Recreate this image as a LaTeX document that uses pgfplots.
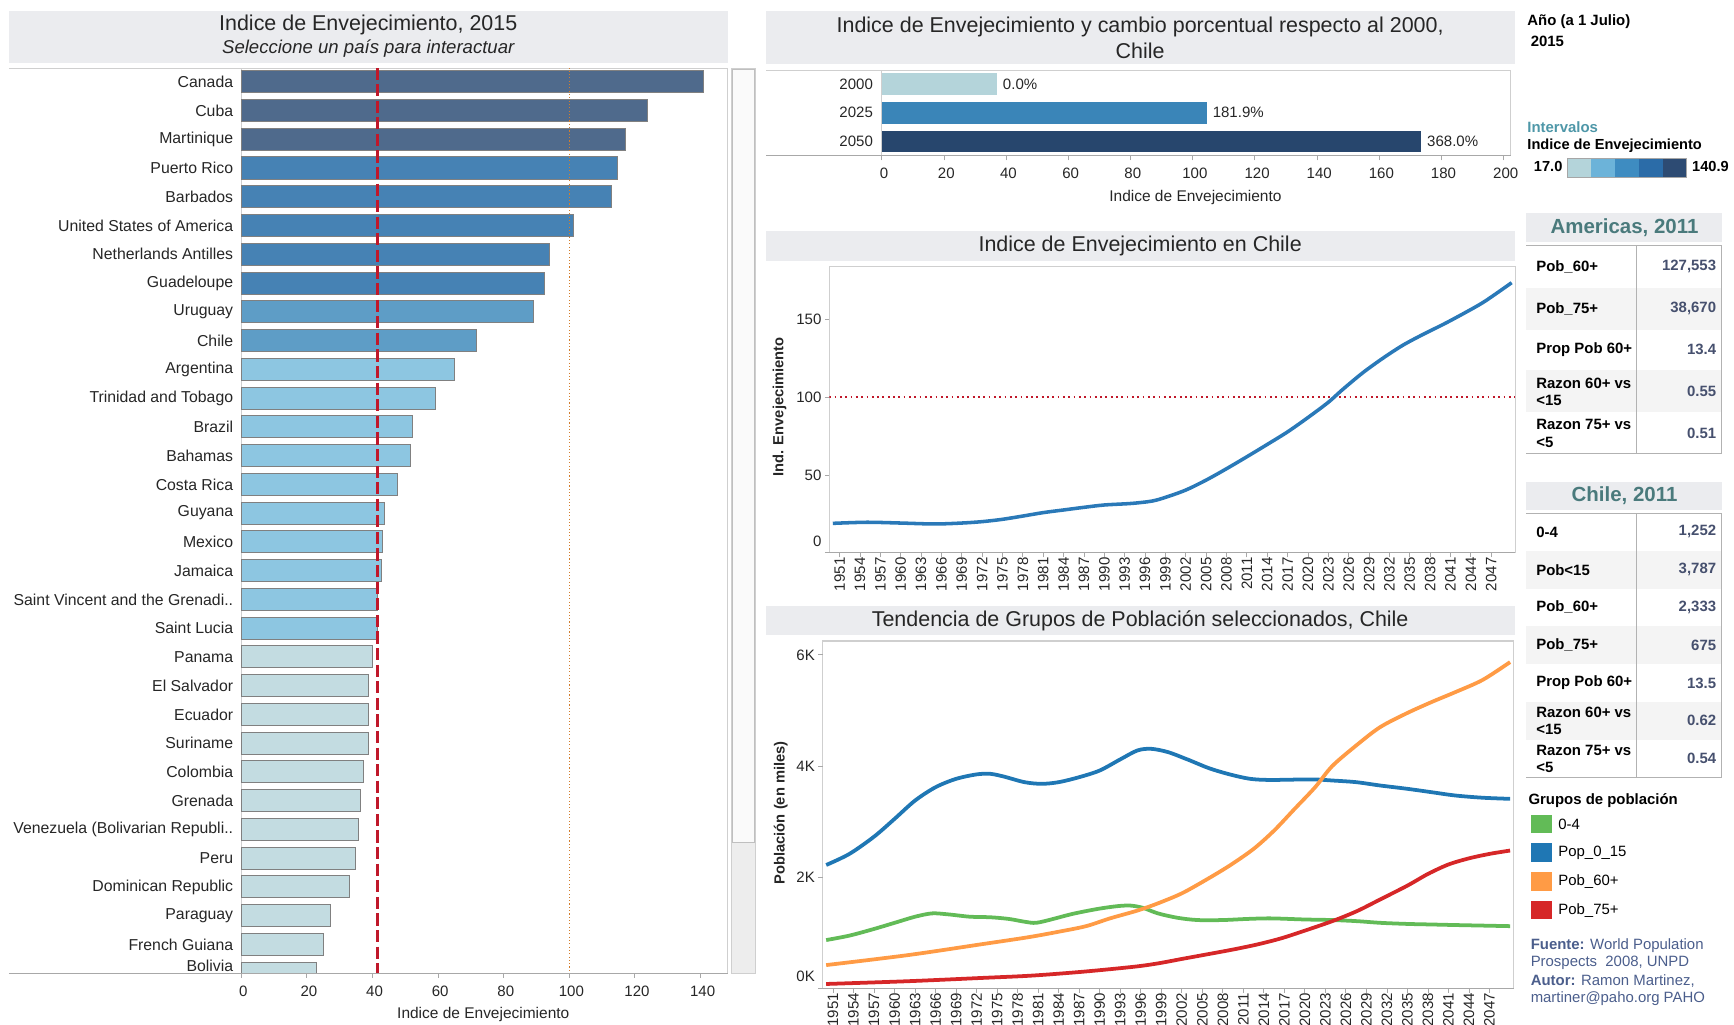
\documentclass[border=0pt]{standalone}
\usepackage{pgfplots}
\pgfplotsset{compat=1.18}
\usepackage{fontspec}
\setmainfont{Liberation Sans}
\newcommand\fs[1]{\fontsize{#1}{#1}\selectfont}
\definecolor{titlebg}{HTML}{EBECEF}
\definecolor{cA}{HTML}{4F6A8C}
\definecolor{cB}{HTML}{4682B4}
\definecolor{cC}{HTML}{5E9DC6}
\definecolor{cD}{HTML}{8DC6E1}
\definecolor{cE}{HTML}{C3DCE1}
\definecolor{framec}{HTML}{CFCFCF}
\definecolor{axisgray}{HTML}{A8A8A8}
\definecolor{idxblue}{HTML}{2A79B8}
\definecolor{tblue}{HTML}{1F77B4}
\definecolor{tgreen}{HTML}{62BB57}
\definecolor{torange}{HTML}{FF9B45}
\definecolor{tred}{HTML}{D62728}
\definecolor{valcol}{HTML}{46506E}
\definecolor{tealc}{HTML}{4A7A7C}
\definecolor{interv}{HTML}{4E97A8}
\definecolor{fuente}{HTML}{4B5E8C}
\definecolor{band}{HTML}{F4F4F4}
\definecolor{b2000}{HTML}{B4D4DA}
\definecolor{b2025}{HTML}{3A85B8}
\definecolor{b2050}{HTML}{27466D}
\definecolor{rA}{HTML}{B4D4DA}
\definecolor{rB}{HTML}{6CB3D9}
\definecolor{rC}{HTML}{3E8CC1}
\definecolor{rD}{HTML}{2B6CA8}
\definecolor{rE}{HTML}{2D4B73}
\definecolor{reddash}{HTML}{C0182A}
\definecolor{orgdot}{HTML}{D27D2D}
\pgfplotsset{
  every axis/.append style={
    scale only axis, anchor=south west, axis line style={draw=none},
    tick label style={font=\fs{13.6}, text=black!85},
    /pgf/number format/assume math mode=true, /pgf/number format/1000 sep={},
    tick align=outside, major tick length=4pt,
    tick style={draw=axisgray, line width=0.8pt},
  },
}
\begin{document}
\begin{tikzpicture}[x=1pt,y=1pt]
\path[use as bounding box] (0,0) rectangle (1568,926);

% ---------------- LEFT PANEL ----------------
\fill[titlebg] (8,869) rectangle (658,916);
\node[font=\fs{19.4}, text=black!85] at (333,903) {Indice de Envejecimiento, 2015};
\node[font=\fs{16.8}\itshape, text=black!85] at (333,882) {Seleccione un país para interactuar};
\draw[framec, line width=1pt] (8,864) -- (658,864);
\draw[framec, line width=1pt] (218,46) -- (218,864);
\draw[framec, line width=1pt] (658,46) -- (658,864);
\fill[black!7] (661,46) rectangle (683,864);
\draw[framec] (661,46) rectangle (683,864);
\fill[black!2] (662,164) rectangle (682,863);
\draw[black!25] (662,164) rectangle (682,863);

\begin{axis}[at={(218pt,46pt)}, width=440pt, height=818pt,
  xmin=0, xmax=148.3, ymin=-0.46, ymax=31, y dir=reverse,
  xtick={0,20,...,140}, xtick pos=left,
  ytick={0,...,30,30.75}, ytick pos=left, ytick style={draw=none},
  yticklabels={Canada,Cuba,Martinique,Puerto Rico,Barbados,United States of America,Netherlands Antilles,Guadeloupe,Uruguay,Chile,Argentina,Trinidad and Tobago,Brazil,Bahamas,Costa Rica,Guyana,Mexico,Jamaica,Saint Vincent and the Grenadi..,Saint Lucia,Panama,El Salvador,Ecuador,Suriname,Colombia,Grenada,Venezuela (Bolivarian Republi..,Peru,Dominican Republic,Paraguay,French Guiana,Bolivia},
  yticklabel style={font=\fs{14.3}, inner sep=0pt, xshift=-3pt},
  xticklabel style={inner sep=0pt, yshift=-7pt, xshift=2pt},
]
\addplot[xbar, bar shift=0pt, bar width=20pt, fill=cA, draw=black!50, line width=0.9pt] coordinates {(141.0,0) (123.8,1) (117.3,2)};
\addplot[xbar, bar shift=0pt, bar width=20pt, fill=cB, draw=black!50, line width=0.9pt] coordinates {(114.6,3) (112.9,4) (101.4,5) (94.1,6) (92.4,7)};
\addplot[xbar, bar shift=0pt, bar width=20pt, fill=cC, draw=black!50, line width=0.9pt] coordinates {(89.2,8) (71.7,9)};
\addplot[xbar, bar shift=0pt, bar width=20pt, fill=cD, draw=black!50, line width=0.9pt] coordinates {(65.0,10) (59.4,11) (52.1,12) (51.5,13) (47.6,14) (43.8,15) (43.2,16) (42.7,17) (41.6,18) (41.6,19)};
\addplot[xbar, bar shift=0pt, bar width=20pt, fill=cE, draw=black!50, line width=0.9pt] coordinates {(40.0,20) (38.7,21) (38.7,22) (38.7,23) (37.4,24) (36.3,25) (35.9,26) (34.9,27) (33.1,28) (27.4,29) (25.2,30) (23.1,31)};
\addplot[orgdot, line width=1pt, dash pattern=on 1pt off 2pt] coordinates {(100,-0.5) (100,31)};
\addplot[reddash, line width=2.5pt, dash pattern=on 11pt off 4pt] coordinates {(41.6,-0.5) (41.6,31)};
\end{axis}
\draw[axisgray, line width=1pt] (8,46) -- (658,46);
\node[font=\fs{14}, text=black!85] at (437,9) {Indice de Envejecimiento};

% ---------------- TOP RIGHT BAR ----------------
\fill[titlebg] (693,868) rectangle (1370,916);
\node[font=\fs{19.4}, text=black!85] at (1031,902) {Indice de Envejecimiento y cambio porcentual respecto al 2000,};
\node[font=\fs{19.4}, text=black!85] at (1031,880) {Chile};
\draw[framec, line width=1pt] (693,862) -- (1366,862);
\draw[framec, line width=1pt] (797.5,785) -- (797.5,862);
\draw[framec, line width=1pt] (1366,785) -- (1366,862);
\begin{axis}[at={(797.5pt,785pt)}, width=568.5pt, height=78pt,
  xmin=0, xmax=202.3, ymin=-0.5, ymax=2.5, y dir=reverse,
  xtick={0,20,...,200}, xtick pos=left,
  ytick={0,1,2}, yticklabels={2000,2025,2050}, ytick pos=left, ytick style={draw=none},
  yticklabel style={inner sep=0pt, xshift=-4pt},
  xticklabel style={inner sep=0pt, yshift=-7pt, xshift=2pt},
  nodes near coords, point meta=explicit symbolic,
  nodes near coords style={font=\fs{13.6}, text=black!85, anchor=west, inner sep=0pt, xshift=5pt},
]
\addplot[xbar, bar shift=0pt, bar width=19.6pt, fill=b2000, draw=none] coordinates {(37.1,0) [0.0\%]};
\addplot[xbar, bar shift=0pt, bar width=19.6pt, fill=b2025, draw=none] coordinates {(104.6,1) [181.9\%]};
\addplot[xbar, bar shift=0pt, bar width=19.6pt, fill=b2050, draw=none] coordinates {(173.6,2) [368.0\%]};
\end{axis}
\draw[axisgray, line width=1pt] (693,785) -- (1366,785);
\node[font=\fs{14}, text=black!85] at (1081,747) {Indice de Envejecimiento};

% ---------------- MIDDLE LINE ----------------
\fill[titlebg] (693,690) rectangle (1370,717);
\node[font=\fs{19.4}, text=black!85] at (1031,704) {Indice de Envejecimiento en Chile};
\draw[framec, line width=1pt] (750,426) rectangle (1370,685);
\begin{axis}[at={(750pt,426pt)}, width=620pt, height=259pt,
  xmin=1949.5, xmax=2050.5, ymin=0, ymax=184,
  xtick={1951,1954,...,2047}, xtick pos=left,
  ytick={0,50,100,150}, ytick pos=left,
  yticklabels={\raisebox{6pt}[0pt][0pt]{0},50,100,150},
  xticklabel style={rotate=90, anchor=east, inner sep=0pt},
  yticklabel style={inner sep=0pt, xshift=-3pt},
]
\addplot[reddash, line width=2pt, dash pattern=on 1.6pt off 3.2pt] coordinates {(1949.5,100) (2050.5,100)};
\addplot[idxblue, line width=3.2pt, smooth] coordinates {
(1950,19.0) (1955,19.7) (1960,19.2) (1965,18.6) (1969,19.2) (1972,20.1) (1975,21.6) (1978,23.7) (1981,25.9) (1984,27.6) (1987,29.3) (1990,30.8) (1994,31.8) (1997,33.3) (1999,35.7) (2002,40.4) (2005,46.8) (2008,54.1) (2011,61.8) (2014,69.7) (2017,77.8) (2020,87.0) (2023,96.8) (2025,104.6) (2028,115.5) (2031,125.0) (2034,133.5) (2037,140.5) (2040,147.0) (2043,154.0) (2046,161.5) (2050,173.6)};
\end{axis}
\draw[axisgray, line width=1pt] (750,426) -- (1370,426);
\node[rotate=90, font=\bfseries\fs{13.3}, text=black!85] at (705,558) {Ind. Envejecimiento};

% ---------------- BOTTOM LINE ----------------
\fill[titlebg] (693,352) rectangle (1370,378);
\node[font=\fs{19.4}, text=black!85] at (1031,365) {Tendencia de Grupos de Población seleccionados, Chile};
\draw[framec, line width=1pt] (744,32.2) rectangle (1368.6,346.4);
\begin{axis}[at={(744pt,32.2pt)}, width=624.6pt, height=314.2pt,
  xmin=1949.5, xmax=2050.5, ymin=0, ymax=6.25,
  xtick={1951,1954,...,2047}, xtick pos=left,
  ytick={0,2,4,6}, ytick pos=left,
  yticklabels={\raisebox{6pt}[0pt][0pt]{0K},2K,4K,6K},
  xticklabel style={rotate=90, anchor=east, inner sep=0pt},
  yticklabel style={inner sep=0pt, xshift=-3pt},
]
\addplot[tgreen, line width=3.4pt, smooth] coordinates {
(1950,0.87) (1953.4,0.95) (1957,1.07) (1960,1.18) (1963,1.29) (1965.5,1.35) (1968,1.33) (1971,1.29) (1974,1.28) (1976.7,1.25) (1979,1.20) (1980.7,1.18) (1983.2,1.25) (1986,1.34) (1989.7,1.43) (1992.6,1.48) (1994.5,1.49) (1996.3,1.45) (1998.5,1.35) (2001.4,1.27) (2004.3,1.23) (2008,1.23) (2011.6,1.25) (2015,1.26) (2020,1.24) (2024,1.23) (2027.6,1.21) (2031,1.18) (2035,1.16) (2038.5,1.15) (2042,1.14) (2046,1.13) (2050,1.12)};
\addplot[tblue, line width=3.4pt, smooth] coordinates {
(1950,2.22) (1953.4,2.42) (1957,2.73) (1960,3.05) (1963,3.38) (1966,3.62) (1969,3.77) (1972,3.85) (1974,3.86) (1976,3.81) (1979,3.71) (1981.5,3.68) (1984,3.71) (1987,3.80) (1990,3.92) (1993,4.12) (1995.5,4.28) (1997.5,4.31) (2000,4.25) (2003,4.11) (2006,3.96) (2009,3.85) (2012,3.77) (2015,3.75) (2021,3.76) (2024,3.74) (2027.5,3.71) (2031,3.65) (2035,3.59) (2038.5,3.53) (2042,3.47) (2046,3.43) (2050,3.41)};
\addplot[torange, line width=3.4pt, smooth] coordinates {
(1950,0.42) (1962,0.60) (1973,0.80) (1979.5,0.92) (1984,1.02) (1988,1.12) (1991.5,1.26) (1995.5,1.40) (1998.5,1.53) (2002,1.71) (2005.5,1.95) (2009,2.21) (2012.5,2.51) (2015.5,2.84) (2018.5,3.23) (2021.5,3.62) (2024,4.00) (2027.6,4.38) (2031,4.70) (2034.9,4.95) (2038.5,5.15) (2042,5.33) (2046,5.55) (2050,5.87)};
\addplot[tred, line width=3.4pt, smooth] coordinates {
(1950,0.08) (1962,0.13) (1973,0.19) (1980,0.23) (1987.5,0.30) (1995,0.39) (1998.5,0.45) (2002,0.53) (2006,0.62) (2009.5,0.70) (2013,0.79) (2016.5,0.90) (2020,1.04) (2024,1.21) (2027.6,1.39) (2031,1.60) (2035,1.85) (2038,2.06) (2041,2.23) (2044,2.34) (2047,2.42) (2050,2.48)};
\end{axis}
\draw[axisgray, line width=1pt] (744,32.2) -- (1368.6,32.2);
\node[rotate=90, font=\bfseries\fs{13.3}, text=black!85] at (706,191) {Población (en miles)};

% ---------------- RIGHT COLUMN ----------------
\node[anchor=west, font=\bfseries\fs{13.5}, inner sep=0pt] at (1381,906) {Año (a 1 Julio)};
\node[anchor=west, font=\bfseries\fs{13.5}, inner sep=0pt] at (1384,889) {2015};
\node[anchor=west, font=\bfseries\fs{13.5}, text=interv, inner sep=0pt] at (1381,811) {Intervalos};
\node[anchor=west, font=\bfseries\fs{13.2}, inner sep=0pt] at (1381,794) {Indice de Envejecimiento};
\node[anchor=east, font=\bfseries\fs{13.2}, inner sep=0pt] at (1413,775) {17.0};
\fill[rA] (1417.5,766) rectangle (1439,783);
\fill[rB] (1439,766) rectangle (1460.5,783);
\fill[rC] (1460.5,766) rectangle (1482,783);
\fill[rD] (1482,766) rectangle (1503.5,783);
\fill[rE] (1503.5,766) rectangle (1525,783);
\draw[black!35] (1417.5,766) rectangle (1525,783);
\node[anchor=west, font=\bfseries\fs{13.2}, inner sep=0pt] at (1530,775) {140.9};

% Americas table
\fill[titlebg] (1380,707) rectangle (1557,733);
\node[font=\bfseries\fs{18.5}, text=tealc] at (1469,720) {Americas, 2011};
\fill[band] (1380,628) rectangle (1557,666);
\fill[band] (1380,553) rectangle (1557,591);
\draw[black!30, line width=1pt] (1380,704) -- (1557,704);
\draw[black!30, line width=1pt] (1380,516) -- (1557,516);
\draw[black!30, line width=1pt] (1480,516) -- (1480,704);
\draw[black!30, line width=1pt] (1557,516) -- (1557,704);
\begin{scope}[every node/.style={font=\bfseries\fs{13.5}, inner sep=0pt}]
\node[anchor=west] at (1389,685) {Pob\_60+};
\node[anchor=west] at (1389,647) {Pob\_75+};
\node[anchor=west] at (1389,610) {Prop Pob 60+};
\node[anchor=west, align=left] at (1389,572) {Razon 60+ vs\\[2pt]<15};
\node[anchor=west, align=left] at (1389,534) {Razon 75+ vs\\[2pt]<5};
\node[anchor=east, text=valcol] at (1552,685) {127,553};
\node[anchor=east, text=valcol] at (1552,647) {38,670};
\node[anchor=east, text=valcol] at (1552,610) {13.4};
\node[anchor=east, text=valcol] at (1552,572) {0.55};
\node[anchor=east, text=valcol] at (1552,534) {0.51};
\end{scope}

% Chile table
\fill[titlebg] (1380,465) rectangle (1557,490);
\node[font=\bfseries\fs{18.5}, text=tealc] at (1469,478) {Chile, 2011};
\fill[band] (1380,393.7) rectangle (1557,427.9);
\fill[band] (1380,325.4) rectangle (1557,359.6);
\fill[band] (1380,257.2) rectangle (1557,291.3);
\draw[black!30, line width=1pt] (1380,462) -- (1557,462);
\draw[black!30, line width=1pt] (1380,223) -- (1557,223);
\draw[black!30, line width=1pt] (1480,223) -- (1480,462);
\draw[black!30, line width=1pt] (1557,223) -- (1557,462);
\begin{scope}[every node/.style={font=\bfseries\fs{13.5}, inner sep=0pt}]
\node[anchor=west] at (1389,445) {0-4};
\node[anchor=west] at (1389,410.8) {Pob<15};
\node[anchor=west] at (1389,376.7) {Pob\_60+};
\node[anchor=west] at (1389,342.6) {Pob\_75+};
\node[anchor=west] at (1389,308.4) {Prop Pob 60+};
\node[anchor=west, align=left] at (1389,274.3) {Razon 60+ vs\\[2pt]<15};
\node[anchor=west, align=left] at (1389,240.1) {Razon 75+ vs\\[2pt]<5};
\node[anchor=east, text=valcol] at (1552,445) {1,252};
\node[anchor=east, text=valcol] at (1552,410.8) {3,787};
\node[anchor=east, text=valcol] at (1552,376.7) {2,333};
\node[anchor=east, text=valcol] at (1552,342.6) {675};
\node[anchor=east, text=valcol] at (1552,308.4) {13.5};
\node[anchor=east, text=valcol] at (1552,274.3) {0.62};
\node[anchor=east, text=valcol] at (1552,240.1) {0.54};
\end{scope}

% Grupos legend
\node[anchor=west, font=\bfseries\fs{13.5}, inner sep=0pt] at (1382,202) {Grupos de población};
\fill[tgreen] (1384,172.7) rectangle (1403,189.3);
\fill[tblue] (1384,146.7) rectangle (1403,163.3);
\fill[torange] (1384,120.7) rectangle (1403,137.3);
\fill[tred] (1384,94.7) rectangle (1403,111.3);
\begin{scope}[every node/.style={anchor=west, font=\fs{13.5}, inner sep=0pt}]
\node at (1409,181) {0-4};
\node at (1409,155) {Pop\_0\_15};
\node at (1409,129) {Pob\_60+};
\node at (1409,103) {Pob\_75+};
\end{scope}
\begin{scope}[every node/.style={anchor=west, font=\fs{13.5}, inner sep=0pt, text=fuente}]
\node at (1384,71) {\textbf{Fuente:} World Population};
\node at (1384,55) {Prospects\ \ 2008, UNPD};
\node at (1384,39) {\textbf{Autor:} Ramon Martinez,};
\node at (1384,23) {martiner@paho.org PAHO};
\end{scope}
\end{tikzpicture}
\end{document}
